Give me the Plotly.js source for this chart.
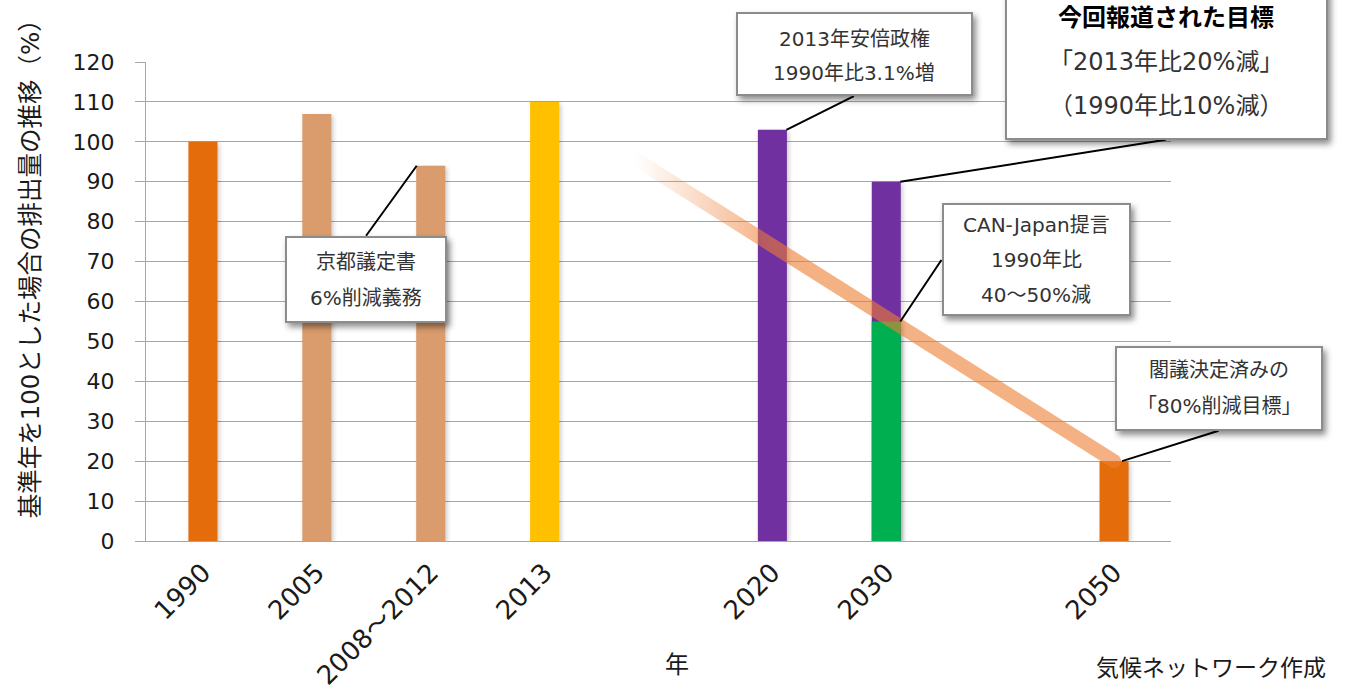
<!DOCTYPE html>
<html><head><meta charset="utf-8">
<script src="https://cdn.plot.ly/plotly-3.0.1.min.js"></script>
<style>html,body{margin:0;padding:0;background:#fff}#chart{width:1346px;height:695px}</style>
</head><body><div id="chart"></div>
<script>
// ---- data ----
const axisCategories = ['1990','2005','2008〜2012','2013',' ','2020','2030','  ','2050'];
const baseYears = ['1990','2050'];
const baseValues = [100, 20];
const pastYears = ['2005','2008〜2012'];
const pastValues = [107, 94];
const year2013 = ['2013'];
const value2013 = [110];
const govYears = ['2020','2030'];
const govValues = [103, 90];
const canYears = ['2030'];
const canValues = [55];
const pathYears = ['2013','2050'];
const pathValues = [110, 20];

const kyotoText = ['京都議定書','6%削減義務'];
const abeText = ['2013年安倍政権','1990年比3.1%増'];
const reportText = ['今回報道された目標','「2013年比20%減」','（1990年比10%減）'];
const canText = ['CAN-Japan提言','1990年比','40〜50%減'];
const cabinetText = ['閣議決定済みの','「80%削減目標」'];
const yAxisTitle = '基準年を100とした場合の排出量の推移（%）';
const xAxisTitle = '年';
const sourceText = '気候ネットワーク作成';

// ---- styling ----
const FONT = '"DejaVu Sans", "Noto Sans CJK JP", sans-serif';
const CJK = 'Noto Sans CJK JP';
const GRID = '#a6a6a6';

const data = [
  {type:'bar', x: baseYears, y: baseValues, marker:{color:'#E46C0A'}},
  {type:'bar', x: pastYears, y: pastValues, marker:{color:'#DA9C6C'}},
  {type:'bar', x: year2013, y: value2013, marker:{color:'#FFC000'}},
  {type:'bar', x: govYears, y: govValues, marker:{color:'#7030A0'}},
  {type:'bar', x: canYears, y: canValues, marker:{color:'#00B050'}},
  {type:'scatter', mode:'lines', x: pathYears, y: pathValues, opacity:0.6,
   line:{color:'rgb(237,125,49)', width:14}}
];

// callouts: anchor (category, value), xshift, box centre offset (ax, ay), box size, leader edge
const callouts = [
  {x: pastYears[1], y: pastValues[1], xs:-14, ax:-51, ay:114, w:162, h:87, edge:'top', gap:36, size:20, lines:kyotoText},
  {x: govYears[0], y: govValues[0], xs:14, ax:68, ay:-76, w:237, h:84, edge:'bottom', gap:34, size:20, lines:abeText, tdy:2},
  {x: govYears[1], y: govValues[1], xs:14, ax:266, ay:-118, w:323, h:152, edge:'bottom', gap:44, size:24, lines:reportText, boldFirst:true, tdy:-2},
  {x: canYears[0], y: canValues[0], xs:14, ax:136, ay:-62, w:189, h:113, edge:'left', gap:35, size:20, lines:canText, tdy:1},
  {x: baseYears[1], y: baseValues[1], xs:8, ax:97, ay:-73, w:208, h:85, edge:'bottom', gap:36, size:20, lines:cabinetText}
];

const annotations = [];
// leader lines
callouts.forEach(c => {
  let lx = c.ax, ly = c.ay;
  if (c.edge === 'top') ly = c.ay - c.h/2;
  if (c.edge === 'bottom') ly = c.ay + c.h/2;
  if (c.edge === 'left') lx = c.ax - c.w/2;
  annotations.push({
    x: axisCategories.indexOf(c.x), y:c.y, xref:'x', yref:'y', xshift:c.xs,
    text:' ', showarrow:true, arrowhead:0, arrowwidth:2, arrowcolor:'#000',
    ax:lx, ay:ly, axref:'pixel', ayref:'pixel', standoff:0, startstandoff:0,
    width:1, height:1, borderpad:0, borderwidth:0, bgcolor:'rgba(0,0,0,0)',
    font:{family:FONT, size:2, color:'rgba(0,0,0,0)'}
  });
});
// boxes
callouts.forEach(c => {
  annotations.push({
    x: axisCategories.indexOf(c.x), y:c.y, xref:'x', yref:'y',
    xshift:c.xs + c.ax, yshift:-c.ay, xanchor:'center', yanchor:'middle',
    text:' ', showarrow:false,
    width:c.w-4, height:c.h-4, borderpad:0, borderwidth:2, bordercolor:'#8c8c8c', bgcolor:'#ffffff',
    font:{family:FONT, size:c.size, color:'#333'}
  });
});
// box texts
callouts.forEach(c => {
  const n = c.lines.length;
  c.lines.forEach((t, i) => {
    const off = c.ay + (c.tdy||0) + (i - (n-1)/2) * c.gap;
    const bold = c.boldFirst && i === 0;
    annotations.push({
      x: axisCategories.indexOf(c.x), y:c.y, xref:'x', yref:'y', showarrow:false,
      xshift:c.xs + c.ax, yshift:-off, xanchor:'center', yanchor:'middle',
      text: bold ? '<b>'+t+'</b>' : t,
      font:{family:FONT, size:c.size, color: bold ? '#000' : '#333'}
    });
  });
});
annotations.push({xref:'paper', yref:'paper', x:-0.113, y:0.58, textangle:-90, showarrow:false,
  xanchor:'center', yanchor:'middle', text:yAxisTitle, font:{family:FONT, size:24.5, color:'#1a1a1a'}});
annotations.push({xref:'paper', yref:'paper', x:0.518, y:-0.259, showarrow:false,
  xanchor:'center', yanchor:'middle', text:xAxisTitle, font:{family:FONT, size:24, color:'#1a1a1a'}});
annotations.push({xref:'paper', yref:'paper', x:1.153, y:-0.265, showarrow:false,
  xanchor:'right', yanchor:'middle', text:sourceText, font:{family:FONT, size:23, color:'#1a1a1a'}});

const tickText = axisCategories.map(c => c.replace('〜', '<span style="font-family:' + CJK + '">〜</span>'));

const layout = {
  width:1346, height:695,
  margin:{l:146, r:175, t:62, b:154, pad:0},
  paper_bgcolor:'#fff', plot_bgcolor:'#fff',
  showlegend:false, hovermode:false,
  barmode:'overlay', bargap:0.745,
  xaxis:{type:'category', categoryorder:'array', categoryarray:axisCategories,
    tickmode:'array', tickvals:axisCategories, ticktext:tickText,
    range:[-0.5, 8.5], showgrid:false, zeroline:false, showline:true, linecolor:GRID, linewidth:1,
    ticks:'', tickangle:-45, ticklabelstandoff:5, automargin:false,
    tickfont:{family:FONT, size:26, color:'#1a1a1a'}},
  yaxis:{range:[0,120], dtick:10, tick0:0, showgrid:true, gridcolor:GRID, gridwidth:1,
    zeroline:false, showline:true, linecolor:GRID, linewidth:1,
    ticks:'outside', ticklen:10, tickcolor:GRID, tickwidth:1, ticklabelstandoff:16, automargin:false,
    tickfont:{family:FONT, size:22, color:'#1a1a1a'}},
  annotations: annotations
};

Plotly.newPlot('chart', data, layout, {staticPlot:true}).then(gd => {
  const ns = 'http://www.w3.org/2000/svg';
  const defs = gd.querySelector('.main-svg defs');
  if (defs) {
    const grad = document.createElementNS(ns, 'linearGradient');
    grad.setAttribute('id', 'pathFade');
    grad.setAttribute('x1', '0'); grad.setAttribute('y1', '0');
    grad.setAttribute('x2', '1'); grad.setAttribute('y2', '0');
    [[0,0],[0.16,0],[0.4,1],[1,1]].forEach(s => {
      const st = document.createElementNS(ns, 'stop');
      st.setAttribute('offset', s[0]);
      st.setAttribute('stop-color', 'rgb(237,125,49)');
      st.setAttribute('stop-opacity', s[1]);
      grad.appendChild(st);
    });
    defs.appendChild(grad);
    gd.querySelectorAll('.scatterlayer .js-line').forEach(p => {
      p.style.stroke = 'url(#pathFade)';
      p.style.strokeLinecap = 'round';
    });
  }
  gd.querySelectorAll('.annotation rect.bg').forEach(r => {
    if (r.style.fillOpacity !== '0' && r.style.fill && r.style.fill.indexOf('255') >= 0) {
      r.style.filter = 'drop-shadow(3px 4px 3px rgba(0,0,0,0.45))';
    }
  });
  gd.querySelectorAll('.barlayer .point path').forEach(p => {
    p.style.filter = 'drop-shadow(2px 2px 2px rgba(0,0,0,0.2))';
  });
});
</script>
</body></html>
